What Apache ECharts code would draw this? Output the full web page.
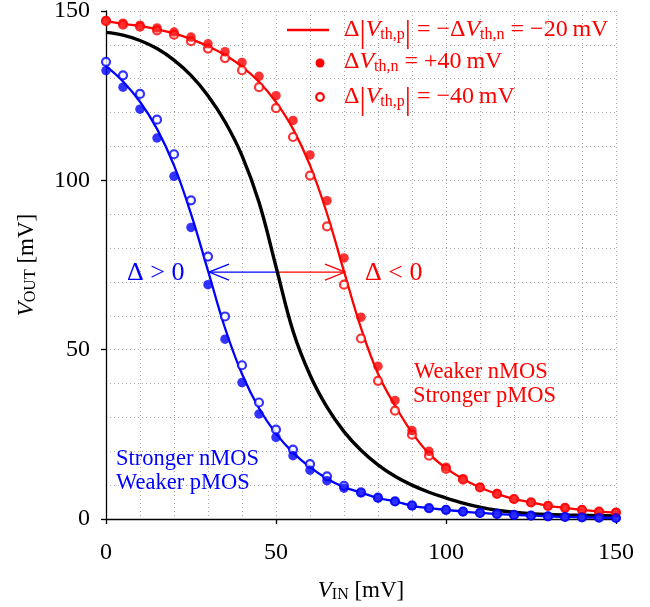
<!DOCTYPE html>
<html>
<head>
<meta charset="utf-8">
<script src="https://cdn.jsdelivr.net/npm/echarts@6/dist/echarts.min.js"></script>
<style>
  html, body { margin: 0; padding: 0; background: #ffffff; }
  #chart { width: 650px; height: 607px; }
</style>
</head>
<body>
<div id="chart"></div>
<script>
// Input voltage sweep (mV)
const vin = [0, 5, 10, 15, 20, 25, 30, 35, 40, 45, 50, 55, 60, 65, 70, 75, 80, 85, 90, 95, 100,
             105, 110, 115, 120, 125, 130, 135, 140, 145, 150];

// Nominal inverter transfer curve (black)
const voutNominal = [143.7, 142.9, 141.3, 138.9, 135.5, 131.0, 125.0, 117.3, 107.3, 93.5, 74.5,
                     55.5, 42.5, 33.0, 25.8, 20.3, 16.0, 12.6, 10.0, 7.9, 6.2,
                     4.7, 3.5, 2.6, 2.0, 1.6, 1.35, 1.2, 1.1, 1.0, 0.9];

// Shifted curves, Δ|Vth,p| = −ΔVth,n = −20 mV
const voutRedLine = [147.1, 146.2, 145.6, 144.6, 143.4, 141.7, 139.6, 137.0, 133.6, 129.1, 123.1,
                     115.2, 104.4, 90.2, 73.1, 56.4, 42.9, 33.5, 25.5, 19.3, 15.0,
                     11.8, 9.3, 7.4, 5.9, 4.9, 3.9, 3.3, 2.7, 2.2, 1.9];
const voutBlueLine = [133.7, 129.2, 123.2, 115.2, 104.4, 90.1, 73.3, 56.4, 42.8, 32.7, 25.2,
                      19.6, 15.3, 11.9, 9.4, 7.8, 6.2, 5.2, 3.9, 3.2, 2.7,
                      2.2, 1.8, 1.5, 1.2, 1.0, 0.8, 0.6, 0.5, 0.4, 0.3];

// ΔVth,n = +40 mV (filled markers)
const voutRedFilled = [147.2, 146.4, 145.8, 145.0, 143.8, 142.3, 140.3, 138.0, 134.8, 130.7, 125.0,
                       117.7, 107.5, 94.0, 77.1, 59.6, 45.1, 35.0, 26.1, 20.0, 15.3,
                       11.9, 9.4, 7.5, 5.9, 4.9, 3.9, 3.3, 2.7, 2.2, 1.9];
const voutBlueFilled = [132.4, 127.5, 121.0, 112.5, 101.2, 86.1, 69.2, 53.1, 40.3, 31.0, 24.1,
                        18.7, 14.4, 11.3, 9.1, 7.7, 6.2, 5.2, 3.9, 3.2, 2.7,
                        2.2, 1.8, 1.5, 1.2, 1.0, 0.8, 0.6, 0.5, 0.4, 0.3];

// Δ|Vth,p| = −40 mV (open markers)
const voutRedOpen = [147.0, 146.0, 145.4, 144.3, 143.0, 141.1, 138.9, 136.1, 132.5, 127.5, 121.3,
                     112.8, 101.4, 86.4, 69.2, 53.3, 40.8, 32.0, 24.9, 18.7, 14.8,
                     11.6, 9.3, 7.4, 5.9, 4.9, 3.9, 3.3, 2.7, 2.2, 1.9];
const voutBlueOpen = [135.0, 131.0, 125.5, 117.9, 107.7, 94.1, 77.5, 59.8, 45.4, 34.4, 26.4,
                      20.5, 16.2, 12.6, 9.8, 7.9, 6.3, 5.2, 4.0, 3.2, 2.7,
                      2.2, 1.8, 1.5, 1.2, 1.0, 0.8, 0.6, 0.5, 0.4, 0.3];

// Switching-point shift arrows: [from x, at y, to x]
const shiftArrows = [[50.3, 72.9, 30.3], [50.3, 72.9, 70.3]];
const arrowColors = ['#0000ff', '#ff0000'];

// Axis ticks
const axisMin = 0, axisMax = 150, axisStep = 50;

const RED = '#ff0000', BLUE = '#0000ff';
const SERIF = '"Liberation Serif", "Times New Roman", serif';

const pairs = ys => vin.map((x, i) => [x, ys[i]]);

const gridDots = { color: '#aaaaaa', width: 1, type: [1, 3] };

// rich-text styles for italic symbols with subscripts
const mathRich = (size) => ({
  t: { fontFamily: SERIF, fontSize: size, lineHeight: size + 4, verticalAlign: 'top' },
  v: { fontFamily: SERIF, fontSize: size, fontStyle: 'italic', lineHeight: size + 4, verticalAlign: 'top' },
  s: { fontFamily: SERIF, fontSize: Math.round(size * 0.68), lineHeight: size + 4,
       padding: [Math.round(size * 0.36), 0, 0, 0], verticalAlign: 'top' },
  b: { fontFamily: SERIF, fontSize: Math.round(size * 1.3), lineHeight: size + 4, verticalAlign: 'top' }
});

const chart = echarts.init(document.getElementById('chart'), null, { renderer: 'canvas' });

const option = {
  backgroundColor: '#ffffff',
  animation: false,
  grid: { left: 106, right: 34, top: 11, bottom: 88, outerBoundsMode: 'none' },
  xAxis: {
    type: 'value', min: axisMin, max: axisMax, interval: axisStep,
    axisLine: { show: true, onZero: false, lineStyle: { color: '#000', width: 1.3 } },
    axisTick: { show: true, length: 5, lineStyle: { color: '#000', width: 1.3 } },
    axisLabel: { color: '#000', fontFamily: SERIF, fontSize: 24, margin: 22 },
    splitLine: { show: true, lineStyle: gridDots },
    minorTick: { show: false, splitNumber: 5 },
    minorSplitLine: { show: true, lineStyle: gridDots },
    name: '{v|V}{s|IN}{t| [mV]}',
    nameLocation: 'middle', nameGap: 60,
    nameTextStyle: { color: '#000', rich: mathRich(23) }
  },
  yAxis: {
    type: 'value', min: axisMin, max: axisMax, interval: axisStep,
    axisLine: { show: true, onZero: false, lineStyle: { color: '#000', width: 1.3 } },
    axisTick: { show: true, length: 5, lineStyle: { color: '#000', width: 1.3 } },
    axisLabel: { color: '#000', fontFamily: SERIF, fontSize: 24, margin: 16 },
    splitLine: { show: true, lineStyle: gridDots },
    minorTick: { show: false, splitNumber: 5 },
    minorSplitLine: { show: true, lineStyle: gridDots },
    name: '{v|V}{s|OUT}{t| [mV]}',
    nameLocation: 'middle', nameGap: 64, nameRotate: 90,
    nameTextStyle: { color: '#000', rich: mathRich(23) }
  },
  series: [
    {
      type: 'custom', z: 1,
      encode: { x: [0, 2], y: 1 },
      data: shiftArrows,
      renderItem(params, api) {
        const y = api.value(1);
        const a = api.coord([api.value(0), y]);
        const b = api.coord([api.value(2), y]);
        const dir = Math.sign(b[0] - a[0]);
        const color = arrowColors[params.dataIndex];
        return {
          type: 'group',
          children: [
            { type: 'line', shape: { x1: a[0], y1: a[1], x2: b[0], y2: b[1] },
              style: { stroke: color, lineWidth: 1.3 } },
            { type: 'polyline',
              shape: { points: [[b[0] - dir * 20, b[1] - 8], [b[0], b[1]], [b[0] - dir * 20, b[1] + 8]] },
              style: { stroke: color, fill: null, lineWidth: 1.3 } }
          ]
        };
      }
    },
    { type: 'line', z: 3, data: pairs(voutNominal), smooth: 0.4, showSymbol: false,
      lineStyle: { color: '#000', width: 3.4 } },
    { type: 'line', z: 3, data: pairs(voutRedLine), smooth: 0.4, showSymbol: false,
      lineStyle: { color: RED, width: 2.3 } },
    { type: 'line', z: 3, data: pairs(voutBlueLine), smooth: 0.4, showSymbol: false,
      lineStyle: { color: BLUE, width: 2.3 } },
    { type: 'scatter', z: 4, data: pairs(voutRedOpen), symbol: 'circle', symbolSize: 8,
      itemStyle: { color: '#fff', borderColor: RED, borderWidth: 2.2 } },
    { type: 'scatter', z: 4, data: pairs(voutBlueOpen), symbol: 'circle', symbolSize: 8,
      itemStyle: { color: '#fff', borderColor: BLUE, borderWidth: 2.2 } },
    { type: 'scatter', z: 5, data: pairs(voutRedFilled), symbol: 'circle', symbolSize: 9.5,
      itemStyle: { color: RED } },
    { type: 'scatter', z: 5, data: pairs(voutBlueFilled), symbol: 'circle', symbolSize: 9.5,
      itemStyle: { color: BLUE } }
  ],
  graphic: [
    // legend
    { type: 'line', shape: { x1: 287, y1: 30, x2: 329, y2: 30 }, style: { stroke: RED, lineWidth: 2.5 }, z: 10 },
    { type: 'circle', shape: { cx: 320, cy: 63, r: 4.5 }, style: { fill: RED }, z: 10 },
    { type: 'circle', shape: { cx: 320, cy: 97, r: 3.8 }, style: { fill: '#fff', stroke: RED, lineWidth: 2.2 }, z: 10 },
    { type: 'text', x: 344, y: 32, z: 10,
      style: { text: '{t|Δ}{b||}{v|V}{s|th,p}{b||}{t| = −Δ}{v|V}{s|th,n}{t| = −20\u2009mV}',
               fill: RED, verticalAlign: 'middle', rich: mathRich(24) } },
    { type: 'text', x: 344, y: 64, z: 10,
      style: { text: '{t|Δ}{v|V}{s|th,n}{t| = +40\u2009mV}',
               fill: RED, verticalAlign: 'middle', rich: mathRich(24) } },
    { type: 'text', x: 344, y: 99, z: 10,
      style: { text: '{t|Δ}{b||}{v|V}{s|th,p}{b||}{t| = −40\u2009mV}',
               fill: RED, verticalAlign: 'middle', rich: mathRich(24) } },
    // annotations
    { type: 'text', x: 127, y: 273, z: 10,
      style: { text: 'Δ > 0', fill: BLUE, font: '26px ' + SERIF, verticalAlign: 'middle' } },
    { type: 'text', x: 365, y: 273, z: 10,
      style: { text: 'Δ < 0', fill: RED, font: '26px ' + SERIF, verticalAlign: 'middle' } },
    { type: 'text', x: 414, y: 372, z: 10,
      style: { text: 'Weaker nMOS', fill: RED, font: '22.5px ' + SERIF, verticalAlign: 'middle' } },
    { type: 'text', x: 413, y: 396, z: 10,
      style: { text: 'Stronger pMOS', fill: RED, font: '22.5px ' + SERIF, verticalAlign: 'middle' } },
    { type: 'text', x: 116, y: 459, z: 10,
      style: { text: 'Stronger nMOS', fill: BLUE, font: '22.5px ' + SERIF, verticalAlign: 'middle' } },
    { type: 'text', x: 116, y: 483, z: 10,
      style: { text: 'Weaker pMOS', fill: BLUE, font: '22.5px ' + SERIF, verticalAlign: 'middle' } }
  ]
};

chart.setOption(option);
</script>
</body>
</html>
